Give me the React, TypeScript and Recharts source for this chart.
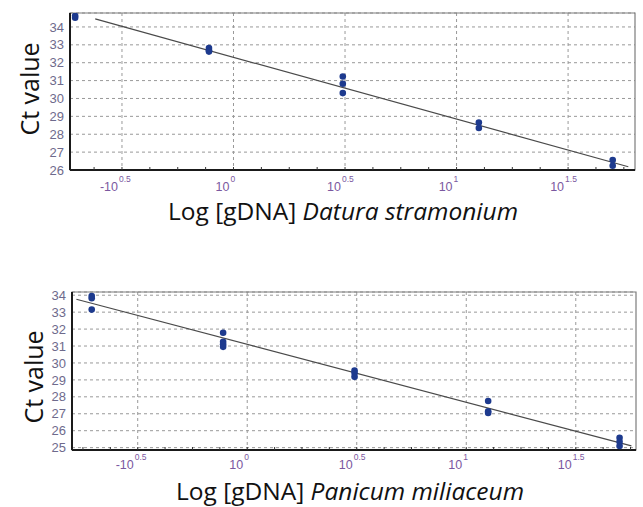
import React from "react";
import {
  ScatterChart, Scatter, XAxis, YAxis, CartesianGrid, ReferenceArea, Label,
} from "recharts";

// log10 of the gDNA dilutions (4-fold steps)
const dilutionLog = [-0.71, -0.11, 0.49, 1.1, 1.7];

// Ct replicates per dilution
const daturaCt = [
  [34.52, 34.62],
  [32.82, 32.7, 32.62],
  [31.23, 30.82, 30.3],
  [28.65, 28.35],
  [26.56, 26.24],
];
const panicumCt = [
  [33.95, 33.82, 33.15],
  [31.78, 31.25, 31.1, 30.95],
  [29.55, 29.4, 29.18],
  [27.75, 27.15, 27.05],
  [25.58, 25.35, 25.1],
];

// regression line ends
const daturaFitX = [-0.62, 1.77];
const daturaFitY = [34.45, 26.18];
const panicumFitX = [-0.78, 1.754];
const panicumFitY = [33.76, 25.1];

const xMajorTicks = [-0.5, 0, 0.5, 1, 1.5];
const xTickBases = ["-10", "10", "10", "10", "10"];
const xTickExps = ["0.5", "0", "0.5", "1", "1.5"];
const xMinorTicks = [
  -0.75, -0.625, -0.375, -0.25, -0.125, 0.125, 0.25, 0.375, 0.625, 0.75, 0.875,
  1.125, 1.25, 1.375, 1.625, 1.75,
];
const daturaYTicks = [26, 27, 28, 29, 30, 31, 32, 33, 34];
const panicumYTicks = [25, 26, 27, 28, 29, 30, 31, 32, 33, 34];

const COLORS = {
  point: "#1d3a8e",
  fit: "#4a4a4a",
  grid: "#999999",
  axis: "#1a1a1a",
  border: "#7c7c7c",
  yTick: "#6e6a8c",
  xTick: "#7b58a0",
};
const TICK_FONT = "'Liberation Sans', Arial, sans-serif";
const TITLE_FONT = "'Open Sans', Lato, sans-serif";

function toPoints(xs: number[], ys: number[][]) {
  const out: { x: number; y: number }[] = [];
  xs.forEach((x, i) => ys[i].forEach((y) => out.push({ x, y })));
  return out;
}
function toLine(xs: number[], ys: number[]) {
  return xs.map((x, i) => ({ x, y: ys[i] }));
}

function XTick(props: any) {
  const { x, y, payload, drop } = props;
  const i = xMajorTicks.indexOf(payload.value);
  if (i < 0) return null;
  return (
    <g fontFamily={TICK_FONT} fill={COLORS.xTick}>
      <text x={x - 4} y={y + drop} fontSize={12.5} textAnchor="end">{xTickBases[i]}</text>
      <text x={x - 3} y={y + drop - 9} fontSize={8.5} textAnchor="start">{xTickExps[i]}</text>
    </g>
  );
}

function Dot(props: any) {
  return <circle cx={props.cx} cy={props.cy} r={3.3} fill={COLORS.point} />;
}

interface PanelProps {
  top: number;
  height: number;
  margin: { top: number; right: number; bottom: number; left: number };
  yWidth: number;
  xHeight: number;
  xDomain: [number, number];
  yDomain: [number, number];
  yTicks: number[];
  points: { x: number; y: number }[];
  fit: { x: number; y: number }[];
  species: string;
  ctPos: [number, number];
  titlePos: [number, number];
  titleSize: number;
  tickDrop: number;
}

function Panel(p: PanelProps) {
  const minors = xMinorTicks.filter((t) => t > p.xDomain[0] && t < p.xDomain[1]);
  const ticks = [...xMajorTicks, ...minors].sort((a, b) => a - b);
  return (
    <div style={{ position: "absolute", left: 0, top: p.top }}>
      <ScatterChart width={643} height={p.height} margin={p.margin}>
        <CartesianGrid
          stroke={COLORS.grid}
          strokeDasharray="3 3"
          verticalValues={xMajorTicks}
        />
        <ReferenceArea
          x1={p.xDomain[0]} x2={p.xDomain[1]} y1={p.yDomain[0]} y2={p.yDomain[1]}
          fill="none" stroke={COLORS.border} strokeWidth={1.2}
        />
        <XAxis
          type="number"
          dataKey="x"
          domain={p.xDomain}
          allowDataOverflow
          ticks={ticks}
          interval={0}
          height={p.xHeight}
          tickSize={-3}
          tickMargin={3}
          tickLine={{ stroke: "#333" }}
          axisLine={{ stroke: COLORS.axis, strokeWidth: 2 }}
          tick={<XTick drop={p.tickDrop} />}
        >
          <Label
            content={() => (
              <text
                x={p.titlePos[0]} y={p.titlePos[1]} textAnchor="middle"
                dominantBaseline="central" fontFamily={TITLE_FONT} fontSize={p.titleSize} fill="#111"
              >
                <tspan>Log [gDNA] </tspan>
                <tspan fontStyle="italic">{p.species}</tspan>
              </text>
            )}
          />
        </XAxis>
        <YAxis
          type="number"
          dataKey="y"
          domain={p.yDomain}
          allowDataOverflow
          ticks={p.yTicks}
          interval={0}
          width={p.yWidth}
          tickSize={0}
          tickMargin={6}
          axisLine={{ stroke: COLORS.axis, strokeWidth: 2 }}
          tick={{ fill: COLORS.yTick, fontSize: 13, fontFamily: TICK_FONT }}
        >
          <Label
            content={() => (
              <text
                x={p.ctPos[0]} y={p.ctPos[1]} textAnchor="middle" dominantBaseline="central"
                transform={`rotate(-90 ${p.ctPos[0]} ${p.ctPos[1]})`}
                fontFamily={TITLE_FONT} fontSize={25} fill="#111"
              >
                Ct value
              </text>
            )}
          />
        </YAxis>
        <Scatter
          data={p.fit}
          line={{ stroke: COLORS.fit, strokeWidth: 1.2 }}
          shape={() => <g />}
          isAnimationActive={false}
        />
        <Scatter data={p.points} shape={<Dot />} isAnimationActive={false} />
      </ScatterChart>
    </div>
  );
}

export default function App() {
  return (
    <div
      style={{
        position: "absolute", left: 0, top: 0, width: 643, height: 507,
        background: "#fff", overflow: "hidden",
      }}
    >
      <Panel
        top={0}
        height={250}
        margin={{ top: 13, right: 8, bottom: 0, left: 0 }}
        yWidth={70}
        xHeight={80}
        xDomain={[-0.733, 1.8]}
        yDomain={[26, 34.78]}
        yTicks={daturaYTicks}
        points={toPoints(dilutionLog, daturaCt)}
        fit={toLine(daturaFitX, daturaFitY)}
        species="Datura stramonium"
        ctPos={[29, 89]}
        titlePos={[343, 210]}
        titleSize={24.5}
        tickDrop={21}
      />
      <Panel
        top={260}
        height={247}
        margin={{ top: 32, right: 7, bottom: 0, left: 0 }}
        yWidth={72}
        xHeight={57}
        xDomain={[-0.8, 1.775]}
        yDomain={[24.86, 34.19]}
        yTicks={panicumYTicks}
        points={toPoints(dilutionLog, panicumCt)}
        fit={toLine(panicumFitX, panicumFitY)}
        species="Panicum miliaceum"
        ctPos={[33, 117]}
        titlePos={[350, 230]}
        titleSize={24.5}
        tickDrop={19}
      />
    </div>
  );
}
